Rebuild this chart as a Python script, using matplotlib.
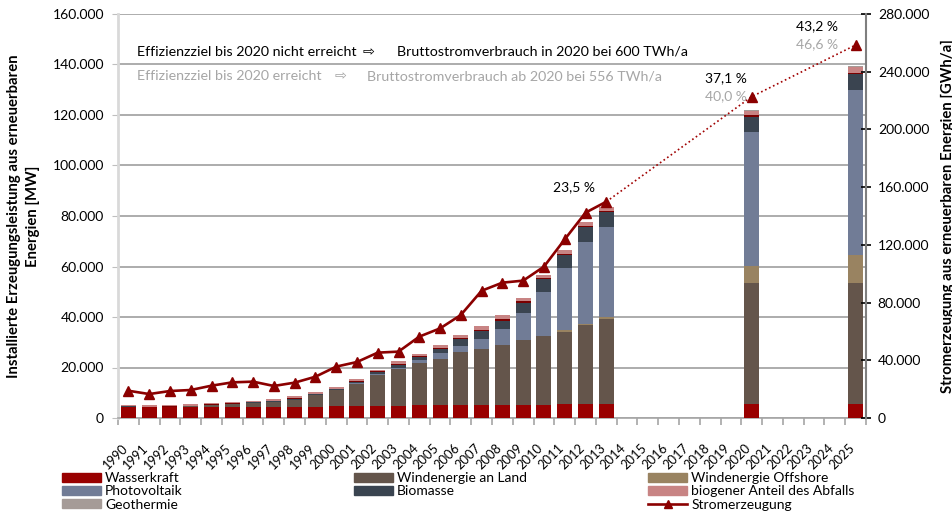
import matplotlib.pyplot as plt
from matplotlib.patches import Patch
from matplotlib.lines import Line2D
from matplotlib.ticker import FuncFormatter, MultipleLocator
from matplotlib.transforms import ScaledTranslation

plt.rcParams['font.family'] = ['Lato', 'DejaVu Sans']

# categories on the x axis
years_axis = list(range(1990, 2026))

# years that have data
years = list(range(1990, 2014)) + [2020, 2025]

# installed capacity in MW
wasserkraft = [4400, 4200, 4200, 4200, 4400, 4400, 4400, 4400, 4400, 4400,
               4900, 4900, 4900, 4900, 5300, 5300, 5300, 5300, 5300, 5300,
               5300, 5700, 5700, 5700, 5700, 5700]
wind_land = [60, 100, 200, 400, 600, 1100, 1600, 2000, 2800, 4800,
             6000, 8700, 12200, 14600, 16600, 18200, 20700, 22100, 23700, 25700,
             27000, 28500, 31000, 33600, 47900, 47900]
wind_offshore = [0, 0, 0, 0, 0, 0, 0, 0, 0, 0,
                 0, 0, 0, 0, 0, 0, 0, 0, 0, 0,
                 100, 500, 400, 800, 6700, 10800]
photovoltaik = [0, 0, 0, 0, 0, 0, 0, 0, 0, 0,
                0, 200, 300, 400, 1200, 2400, 2600, 4000, 6400, 10700,
                17600, 24900, 32500, 35700, 53100, 65600]
biomasse = [100, 100, 100, 150, 200, 200, 200, 200, 400, 300,
            400, 500, 800, 1000, 1000, 1500, 2700, 2900, 3100, 3800,
            4900, 5100, 6000, 5600, 5900, 6300]
sonstige = [100, 100, 100, 150, 200, 200, 200, 200, 400, 200,
            300, 300, 300, 300, 300, 300, 400, 500, 700, 700,
            400, 400, 400, 700, 800, 400]
abfall = [550, 700, 600, 700, 600, 500, 400, 800, 700, 600,
          800, 1000, 700, 1400, 1000, 1300, 1300, 1700, 1700, 1400,
          1400, 1600, 1500, 1600, 1600, 2200]
geothermie = [0, 0, 0, 0, 0, 0, 0, 0, 0, 0,
              0, 0, 0, 0, 0, 0, 0, 0, 0, 0,
              0, 0, 0, 0, 300, 400]

# electricity generation in GWh/a
strom_years = list(range(1990, 2014))
strom = [18900, 16600, 18700, 19400, 22400, 24700, 25200, 22200, 24500, 28600,
         35600, 38800, 45300, 46000, 56400, 62100, 71400, 88200, 93800, 95200,
         104900, 123800, 142300, 149900]
prog_years = [2013, 2020, 2025]
prog_strom = [149900, 222700, 258500]

series = [
    ('Wasserkraft', wasserkraft, '#990000'),
    ('Windenergie an Land', wind_land, '#64554B'),
    ('Windenergie Offshore', wind_offshore, '#998361'),
    ('Photovoltaik', photovoltaik, '#717C96'),
    ('Biomasse', biomasse, '#3A4450'),
    ('_sonstige', sonstige, '#7A0000'),
    ('biogener Anteil des Abfalls', abfall, '#C88484'),
    ('Geothermie', geothermie, '#A59B97'),
]

fig = plt.figure(figsize=(9.53, 5.15), dpi=100)
ax = fig.add_axes([118 / 953, 97 / 515, 748 / 953, 404 / 515])

bottom = [0] * len(years)
for name, vals, col in series:
    ax.bar(years, vals, width=0.72, bottom=bottom, color=col, zorder=3)
    bottom = [b + v for b, v in zip(bottom, vals)]

ax.set_xlim(1989.5, 2025.5)
ax.set_ylim(0, 160000)
ax.yaxis.set_major_locator(MultipleLocator(20000))
fmt = FuncFormatter(lambda v, p: '0' if v == 0 else f'{int(v):,}'.replace(',', '.'))
ax.yaxis.set_major_formatter(fmt)
ax.grid(axis='y', color='#A6A6A6', lw=1.3, zorder=0)
ax.set_axisbelow(True)

ax.set_xticks(years_axis)
ax.set_xticklabels([str(y) for y in years_axis], rotation=45, ha='right',
                   va='top', rotation_mode='anchor', fontsize=9.3)
ax.set_xticks([y - 0.5 for y in years_axis] + [2025.5], minor=True)
ax.tick_params(axis='x', which='major', length=0, pad=17)
ax.tick_params(axis='x', which='minor', length=5, color='#A6A6A6', width=1.2)
off = ScaledTranslation(-7 / 100, 0, fig.dpi_scale_trans)
for lab in ax.get_xticklabels():
    lab.set_transform(lab.get_transform() + off)
ax.tick_params(axis='y', length=4, color='#BFBFBF', labelsize=10, pad=6)

for s in ['top', 'right']:
    ax.spines[s].set_visible(False)
ax.spines['left'].set_color('#D9D9D9')
ax.spines['left'].set_linewidth(2)
ax.spines['bottom'].set_color('#A6A6A6')
ax.spines['bottom'].set_linewidth(1.2)

ax.set_ylabel('Installierte Erzeugungsleistung aus erneuerbaren\nEnergien [MW]',
              fontsize=10.7, fontweight='bold', labelpad=9, linespacing=1.45)

ax2 = ax.twinx()
ax2.plot(strom_years, strom, color='#8B0000', lw=1.9, marker='^', ms=6.5, zorder=5)
ax2.plot(prog_years, prog_strom, color='#A00000', lw=1.2, ls=':', zorder=4)
ax2.plot(prog_years[1:], prog_strom[1:], ls='none', color='#8B0000', marker='^', ms=6.5, zorder=5)
ax2.set_ylim(0, 280000)
ax2.yaxis.set_major_locator(MultipleLocator(40000))
ax2.yaxis.set_major_formatter(fmt)
ax2.tick_params(axis='y', direction='inout', length=7, width=1.2, labelsize=10, pad=5)
for s in ['top', 'left', 'bottom']:
    ax2.spines[s].set_visible(False)
ax2.spines['right'].set_color('#7F7F7F')
ax2.spines['right'].set_linewidth(1.5)
ax2.set_ylabel('Stromerzeugung aus erneuerbaren Energien [GWh/a]',
               fontsize=10.7, fontweight='bold', labelpad=8)

# target annotations
fs = 10.3
ax.text(1990.41, 145000, 'Effizienzziel bis 2020 nicht erreicht', fontsize=fs, va='center', zorder=6)
ax.text(2001.28, 145000, '\u21e8', fontsize=fs, va='center', zorder=6)
ax.text(2002.92, 145000, 'Bruttostromverbrauch in 2020 bei 600 TWh/a', fontsize=fs, va='center', zorder=6)
grey = '#A6A6A6'
ax.text(1990.41, 135400, 'Effizienzziel bis 2020 erreicht', fontsize=fs, va='center', color=grey, zorder=6)
ax.text(1999.93, 135400, '\u21e8', fontsize=fs, va='center', color=grey, zorder=6)
ax.text(2001.47, 135400, 'Bruttostromverbrauch ab 2020 bei 556 TWh/a', fontsize=fs, va='center', color=grey, zorder=6)

ax2.text(2011.47, 160100, '23,5 %', fontsize=10, ha='center', va='center')
ax2.text(2018.78, 235600, '37,1 %', fontsize=10, ha='center', va='center')
ax2.text(2018.78, 223400, '40,0 %', fontsize=10, ha='center', va='center', color=grey)
ax2.text(2023.15, 271700, '43,2 %', fontsize=10, ha='center', va='center')
ax2.text(2023.15, 259200, '46,6 %', fontsize=10, ha='center', va='center', color=grey)

# legend in three columns
colors = {n: c for n, v, c in series}
line_handle = Line2D([], [], color='#8B0000', lw=1.9, marker='^', ms=6)
cols = [
    (65, ['Wasserkraft', 'Photovoltaik', 'Geothermie']),
    (357, ['Windenergie an Land', 'Biomasse']),
    (651, ['Windenergie Offshore', 'biogener Anteil des Abfalls', 'Stromerzeugung']),
]
for x0, names in cols:
    handles = []
    for n in names:
        if n == 'Stromerzeugung':
            handles.append(line_handle)
        else:
            handles.append(Patch(color=colors[n]))
    fig.legend(handles, names, loc='upper left', bbox_to_anchor=(x0 / 953 - 0.003, 1 - 472 / 515),
               frameon=False, fontsize=10, handlelength=2.8, handleheight=0.6,
               labelspacing=0.1, handletextpad=0.3, borderaxespad=0, borderpad=0)

fig.savefig('out.png', dpi=100)
